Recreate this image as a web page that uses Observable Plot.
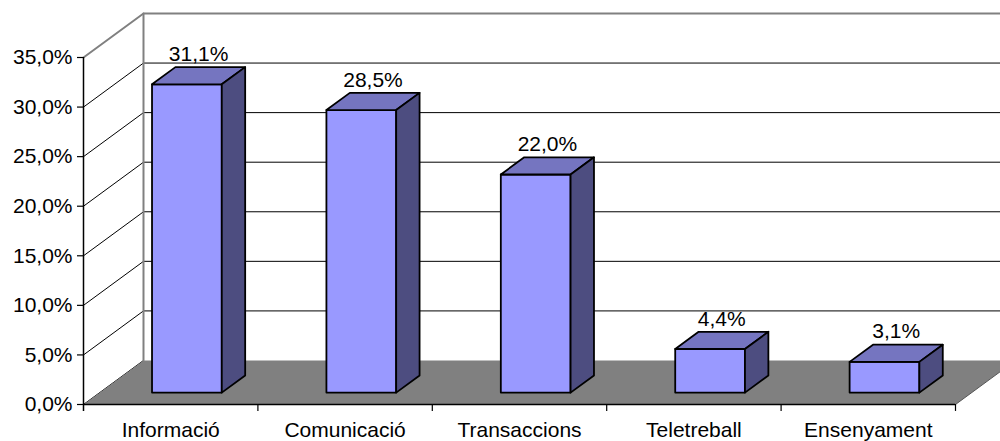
<!DOCTYPE html>
<html>
<head>
<meta charset="utf-8">
<script src="https://cdn.jsdelivr.net/npm/d3@7"></script>
<script src="https://cdn.jsdelivr.net/npm/@observablehq/plot@0.6"></script>
<style>
  html, body { margin: 0; padding: 0; background: #fff; }
  #chart svg { display: block; }
</style>
</head>
<body>
<div id="chart"></div>
<script>
// ---- data ----
const categories = ["Informació", "Comunicació", "Transaccions", "Teletreball", "Ensenyament"];
const values = [31.1, 28.5, 22.0, 4.4, 3.1];
const yTicks = [0, 5, 10, 15, 20, 25, 30, 35];

// ---- 3D oblique projection helpers (data units) ----
const DX = 0.344;   // full depth, in x units
const DY = 4.44;    // full depth, in y units
const F1 = 0.27, F2 = 0.66; // bar front/back depth fractions
const BW = 0.2;     // half bar width in category units
const P = (u, v, f, id, k) => ({x: u + f * DX, y: v + f * DY, id, k});

const nCat = categories.length;
const fmt = v => v.toFixed(1).replace(".", ",") + "%";

// walls & floor
const backWall = [P(0,0,1,"bw",0), P(nCat,0,1,"bw",1), P(nCat,35,1,"bw",2), P(0,35,1,"bw",3)];
const leftWall = [P(0,0,0,"lw",0), P(0,0,1,"lw",1), P(0,35,1,"lw",2), P(0,35,0,"lw",3)];
const floor = [P(0,0,0,"fl",0), P(nCat,0,0,"fl",1), P(nCat,0,1,"fl",2), P(0,0,1,"fl",3)];

const gridBack = [], gridLeft = [];
yTicks.filter(t => t > 0 && t < 35).forEach(t => {
  gridBack.push(P(0,t,1,"g"+t,0), P(nCat,t,1,"g"+t,1));
});
yTicks.filter(t => t < 35).forEach(t => {
  gridLeft.push(P(0,t,0,"l"+t,0), P(0,t,1,"l"+t,1));
});
const wallEdges = [
  P(0,35,0,"e1",0), P(0,35,1,"e1",1), P(nCat,35,1,"e1",2),
  P(0,0,1,"e2",0), P(0,35,1,"e2",1)
];

const fronts = [], tops = [], sides = [];
values.forEach((v, i) => {
  const u1 = i + 0.5 - BW, u2 = i + 0.5 + BW;
  fronts.push(P(u1,0,F1,"f"+i,0), P(u2,0,F1,"f"+i,1), P(u2,v,F1,"f"+i,2), P(u1,v,F1,"f"+i,3));
  tops.push(P(u1,v,F1,"t"+i,0), P(u2,v,F1,"t"+i,1), P(u2,v,F2,"t"+i,2), P(u1,v,F2,"t"+i,3));
  sides.push(P(u2,0,F1,"s"+i,0), P(u2,v,F1,"s"+i,1), P(u2,v,F2,"s"+i,2), P(u2,0,F2,"s"+i,3));
});
const labels = values.map((v, i) => ({...P(i + 0.5, v, F2, "lab"+i, 0), x: i + 0.5 + (F1+F2)/2 * DX, text: fmt(v)}));
const catLabels = categories.map((c, i) => ({x: i + 0.5, y: 0, text: c}));

const poly = (data, opts) => Plot.line(data, {x: "x", y: "y", z: "id", curve: "linear-closed", ...opts});

const chart = Plot.plot({
  width: 1000,
  height: 441,
  marginLeft: 83,
  marginRight: 45,
  marginTop: 57,
  marginBottom: 37,
  style: {fontFamily: "'Liberation Sans', Arial, sans-serif", fontSize: "21px", background: "#fff"},
  x: {type: "linear", domain: [0, nCat], axis: null},
  y: {type: "linear", domain: [0, 35], axis: null},
  marks: [
    poly(backWall, {fill: "#fff", stroke: "none"}),
    poly(leftWall, {fill: "#fff", stroke: "none"}),
    Plot.line(gridBack, {x: "x", y: "y", z: "id", stroke: "#000", strokeWidth: 1}),
    Plot.line(gridLeft, {x: "x", y: "y", z: "id", stroke: "#000", strokeWidth: 1}),
    Plot.line(wallEdges, {x: "x", y: "y", z: "id", stroke: "#808080", strokeWidth: 2}),
    poly(floor, {fill: "#808080", stroke: "none"}),
    Plot.line([P(nCat,0,0,"r",0), P(nCat,0,1,"r",1)], {x: "x", y: "y", z: "id", stroke: "#555", strokeWidth: 1}),
    poly(fronts, {fill: "#9999FF", stroke: "#000", strokeWidth: 1.8, strokeLinejoin: "round"}),
    poly(tops, {fill: "#7575C0", stroke: "#000", strokeWidth: 1.8, strokeLinejoin: "round"}),
    poly(sides, {fill: "#4D4D80", stroke: "#000", strokeWidth: 1.8, strokeLinejoin: "round"}),
    // axes
    Plot.ruleX([0], {y1: -0.7, y2: 35, stroke: "#000", strokeWidth: 1.5}),
    Plot.ruleY([0], {x1: 0, x2: nCat, stroke: "#000", strokeWidth: 1.5}),
    Plot.axisY({ticks: yTicks, tickSize: 6, tickPadding: 5, tickFormat: fmt, label: null, fontSize: 21, stroke: "#000", strokeWidth: 1.2}),
    Plot.ruleX(d3.range(1, nCat + 1), {x: d => d, y1: -0.7, y2: 0, stroke: "#000", strokeWidth: 1.2}),
    Plot.text(catLabels, {x: "x", y: "y", text: "text", dy: 26, lineAnchor: "middle", fill: "#000", fontSize: 21}),
    Plot.text(labels, {x: "x", y: "y", text: "text", dy: -13, lineAnchor: "middle", fill: "#000", fontSize: 21})
  ]
});
document.getElementById("chart").appendChild(chart);
</script>
</body>
</html>
